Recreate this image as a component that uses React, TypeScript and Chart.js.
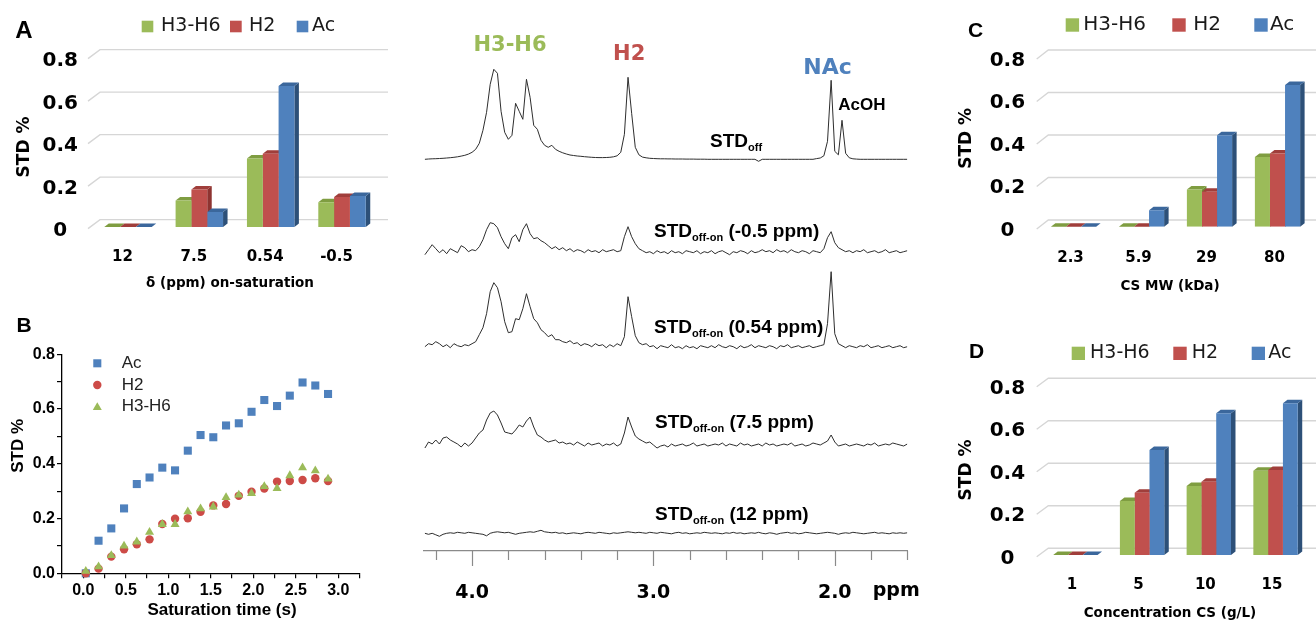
import React, { useEffect, useRef } from 'react';
import { Chart, registerables } from 'chart.js';

Chart.register(...registerables);

const DJ = '"DejaVu Sans", sans-serif';
const LS = '"Liberation Sans", Arial, sans-serif';
const GREEN = '#9bbb59';
const RED = '#c0504d';
const BLUE = '#4f81bd';
const SIDE = ['#6f8b36', '#8e3431', '#2d5078'];
const TOP = ['#7f9d41', '#a03e3b', '#3b679c'];

// ---------- Panel A ----------
const A_CATS = ['12', '7.5', '0.54', '-0.5'];
const A_H36 = [0, 0.125, 0.322, 0.116];
const A_H2 = [0, 0.176, 0.345, 0.141];
const A_AC = [0, 0.071, 0.664, 0.146];

// ---------- Panel C ----------
const C_CATS = ['2.3', '5.9', '29', '80'];
const C_H36 = [0, 0, 0.175, 0.328];
const C_H2 = [0, 0, 0.164, 0.344];
const C_AC = [0, 0.078, 0.43, 0.667];

// ---------- Panel D ----------
const D_CATS = ['1', '5', '10', '15'];
const D_H36 = [0, 0.254, 0.325, 0.397];
const D_H2 = [0, 0.293, 0.345, 0.4];
const D_AC = [0, 0.494, 0.667, 0.714];

// ---------- Panel B ----------
const B_TIME = [0.03, 0.18, 0.33, 0.48, 0.63, 0.78, 0.93, 1.08, 1.23, 1.38, 1.53, 1.68, 1.83, 1.98, 2.13, 2.28, 2.43, 2.58, 2.73, 2.88];
const B_AC = [0.0, 0.119, 0.164, 0.237, 0.326, 0.35, 0.386, 0.376, 0.448, 0.505, 0.497, 0.54, 0.548, 0.59, 0.633, 0.611, 0.649, 0.697, 0.686, 0.655];
const B_H2 = [0.0, 0.017, 0.061, 0.088, 0.106, 0.124, 0.18, 0.199, 0.201, 0.225, 0.248, 0.253, 0.283, 0.298, 0.31, 0.335, 0.337, 0.341, 0.347, 0.337];
const B_H36 = [0.008, 0.024, 0.065, 0.1, 0.115, 0.15, 0.179, 0.179, 0.225, 0.236, 0.243, 0.277, 0.286, 0.292, 0.317, 0.31, 0.357, 0.386, 0.375, 0.345];

// ---------- NMR spectra ----------
const PPM = [
  4.26, 4.24, 4.22, 4.20, 4.18, 4.16, 4.14, 4.12, 4.10, 4.08,
  4.06, 4.04, 4.02, 4.00, 3.98, 3.96, 3.94, 3.92, 3.90, 3.88,
  3.86, 3.84, 3.82, 3.80, 3.78, 3.76, 3.74, 3.72, 3.70, 3.68,
  3.66, 3.64, 3.62, 3.60, 3.58, 3.56, 3.54, 3.52, 3.50, 3.48,
  3.46, 3.44, 3.42, 3.40, 3.38, 3.36, 3.34, 3.32, 3.30, 3.28,
  3.26, 3.24, 3.22, 3.20, 3.18, 3.16, 3.14, 3.12, 3.10, 3.08,
  3.06, 3.04, 3.02, 3.00, 2.98, 2.96, 2.94, 2.92, 2.90, 2.88,
  2.86, 2.84, 2.82, 2.80, 2.78, 2.76, 2.74, 2.72, 2.70, 2.68,
  2.66, 2.64, 2.62, 2.60, 2.58, 2.56, 2.54, 2.52, 2.50, 2.48,
  2.46, 2.44, 2.42, 2.40, 2.38, 2.36, 2.34, 2.32, 2.30, 2.28,
  2.26, 2.24, 2.22, 2.20, 2.18, 2.16, 2.14, 2.12, 2.10, 2.08,
  2.06, 2.04, 2.02, 2.00, 1.98, 1.96, 1.94, 1.92, 1.90, 1.88,
  1.86, 1.84, 1.82, 1.80, 1.78, 1.76, 1.74, 1.72, 1.70, 1.68,
  1.66, 1.64, 1.62, 1.60,
];
const NMR_TICK_LABELS = ['4.0', '3.0', '2.0'];

const STD_OFF = [
  0, 0.3, 0.5, 0.6, 0.8, 1, 1.3, 1.6, 2, 2.5,
  3.2, 4, 5.2, 7, 10, 16, 29, 47, 75, 90,
  86, 48, 27, 20, 24, 56, 48, 40, 80, 62,
  34, 30, 19, 14, 12, 14, 10, 8, 6.5, 5.3,
  4.3, 3.8, 3.3, 3, 2.6, 2.3, 2, 1.8, 1.7, 1.7,
  1.8, 2, 2.5, 3.5, 7, 25, 82, 46, 12, 4.5,
  2.2, 1.5, 1, 0.8, 0.6, 0.5, 0.5, 0.4, 0.4, 0.3,
  0.3, 0.3, 0.2, 0.2, 0.2, 0.1, 0.1, 0.1, 0, 0,
  0, 0, 0, 0, 0, 0, 0, 0, 0, 0,
  0, 0, -2, 0, 0, 0, 0, 0, 0, 0,
  0, 0, 0, 0, 0, 0, 0, 0, 0.7, 1.3,
  3.5, 18, 79, 8, 4.5, 39, 6, 1.5, 0.5, 0.2,
  0, 0, 0, 0, 0, 0, 0, 0, 0, 0,
  0, 0, 0, 0,
];
const STD_M05 = [
  -3, 2, 7, 3, -1, 2, -2, 3, 1, -1,
  6, 4, 0, 2, 1, 5, 12, 22, 29, 28,
  24, 15, 8, 3, 14, 17, 10, 22, 28, 18,
  13, 14, 11, 9, 6, 3, 5, 2, 4, 1,
  3, 0, 2, 1, -1, 2, 0, 1, -1, 2,
  0, 1, 2, 0, 1, 15, 25, 15, 8, 3,
  1, -1, 0, -2, 1, -1, 0, -2, 1, -1,
  0, -2, 1, 0, -1, 1, -2, 0, -1, 1,
  -2, 0, 1, -1, -3, 0, -1, 1, 0, -2,
  1, -1, 0, 2, 0, 1, -1, 2, 0, 1,
  -1, 2, 0, -1, 1, 0, -2, 1, 0, -1,
  3, 14, 20, 9, 4, 2, 0, 1, -1, 1,
  0, 2, -1, 0, 1, -1, 0, 2, -1, 0,
  1, -1, 0, 1,
];
const STD_054 = [
  0, 3, 2, 5, 3, 0, 2, -1, 3, 1,
  0, 2, 1, 3, 5, 12, 19, 33, 55, 64,
  59, 45, 25, 14, 15, 28, 27, 38, 53, 40,
  28, 24, 17, 14, 10, 12, 7, 7, 5, 4,
  6, 3, 4, 1, 3, 2, 0, 3, 1, 2,
  -1, 2, 0, 3, 1, 10, 50, 30, 11, 4,
  2, 3, 0, 1, -2, 1, 0, -1, 2, -1,
  0, -2, 1, -1, 0, -2, 1, 0, -1, 1,
  -1, 2, 0, -1, 1, 0, -2, 1, -1, 0,
  2, -1, 1, 0, -1, 1, 0, -2, 1, 0,
  2, -1, 0, 1, -1, 0, 1, -1, 0, 1,
  2, 23, 75, 13, 3, 1, -1, 1, 0, -1,
  1, 0, 2, -1, 0, 1, -1, 0, 1, -1,
  0, 1, -1, 0,
];
const STD_75 = [
  -3, 3, 1, 5, 1, 7, 8, 5, 3, 1,
  -2, 2, -1, 2, 7, 12, 15, 25, 32, 34,
  30, 22, 13, 12, 11, 15, 20, 18, 24, 28,
  18, 10, 8, 5, 3, 4, 5, 2, 3, 1,
  2, 0, 3, 1, -1, 2, 0, 1, 2, -1,
  1, 0, 2, -1, 1, 12, 28, 18, 9, 6,
  4, 2, 3, 0, -3, -1, 0, -2, 1, -1,
  0, 1, -1, 0, 2, -1, 0, 1, -1, 0,
  1, 0, 2, -1, 1, 0, -1, 2, 0, 1,
  -1, 0, 1, -1, 2, 0, 1, -1, 0, 1,
  0, 2, -1, 0, 1, -1, 0, 2, 1, 0,
  2, 4, 10, 3, -1, 0, 1, -1, 0, 1,
  0, -1, 1, 0, 2, -1, 0, 1, 0, 2,
  1, 0, -1, 1,
];
const STD_12 = [
  0, -1, 0, -1.5, -3, -1, 0, 0.5, 0, 1,
  0.5, 0, 1, 0.5, 0, -0.5, -1, -2.5, 0, 1,
  1.5, 1, 0.5, 1, 0, -1, 0, 0.5, 1, 1.5,
  1, 2, 3, 1.5, 1, 0.5, 1, 0, 0.5, -0.5,
  0, 0.5, 0, -0.5, 0.5, 1, 0.5, 0, 1, 0.5,
  0, -0.5, 0.5, 0, 0.5, 1, 1.5, 1, 0.5, 1,
  0.5, 0, 1, 0.5, 0, 1, 0.5, 0, -0.5, 0.5,
  1, 0, 0.5, -0.5, 0, 0.5, 0, 1, 0.5, 0,
  0.5, 0, -0.5, 0.5, 0, 1, 0, 0.5, -0.5, 0,
  0.5, 0, 1, 0, -0.5, 0.5, 0, -1, 0, 0.5,
  1, 0, 0.5, -0.5, 0, 1, 0.5, 0, -0.5, 0,
  0.5, 1, 0.5, 0, -1, 0, 0.5, 0, 1, 0.5,
  0, -0.5, 0, 0.5, 1, 0, 0.5, 0, -0.5, 0.5,
  0, 0.5, 0, 0.5,
];
const TRACES = [STD_OFF, STD_M05, STD_054, STD_75, STD_12];
// vertical stacking of the five spectra (layout, in plot units)
const TRACE_BASE = [391.7, 299.3, 204.3, 106, 17.7];

// ---------- helpers ----------
function overlay(spec: any) {
  return {
    id: 'overlay',
    afterDraw(chart: any) {
      const ctx: CanvasRenderingContext2D = chart.ctx;
      ctx.save();
      for (const b of spec.boxes || []) {
        ctx.fillStyle = b.c;
        ctx.fillRect(b.x, b.y, b.w, b.h);
      }
      for (const m of spec.marks || []) {
        ctx.fillStyle = m.c;
        ctx.beginPath();
        if (m.shape === 'rect') {
          const s = Math.SQRT1_2 * m.r;
          ctx.rect(m.x - s, m.y - s, 2 * s, 2 * s);
        } else if (m.shape === 'circle') {
          ctx.arc(m.x, m.y, m.r, 0, Math.PI * 2);
        } else {
          for (let k = 0; k < 3; k++) {
            const a = (k * 2 * Math.PI) / 3;
            const px = m.x + Math.sin(a) * m.r;
            const py = m.y - Math.cos(a) * m.r;
            if (k === 0) ctx.moveTo(px, py);
            else ctx.lineTo(px, py);
          }
          ctx.closePath();
        }
        ctx.fill();
      }
      for (const t of spec.texts || []) {
        ctx.save();
        ctx.fillStyle = t.c || '#000';
        ctx.translate(t.x, t.y);
        if (t.rot) ctx.rotate(t.rot);
        if (t.parts) {
          ctx.textAlign = 'left';
          ctx.textBaseline = 'alphabetic';
          let x = 0;
          for (const p of t.parts) {
            ctx.font = p.f;
            ctx.fillText(p.t, x, p.dy || 0);
            x += ctx.measureText(p.t).width;
          }
        } else {
          ctx.font = t.f;
          ctx.textAlign = t.align || 'center';
          ctx.textBaseline = 'middle';
          ctx.fillText(t.t, 0, 0);
        }
        ctx.restore();
      }
      ctx.restore();
    },
  };
}

function bar3d(g: any) {
  const DX = 4.5;
  const DY = 3.5;
  return {
    id: 'bar3d',
    beforeDatasetsDraw(chart: any) {
      const { ctx, chartArea: ca } = chart;
      const ys = chart.scales.y;
      ctx.save();
      ctx.strokeStyle = '#d6d6d6';
      ctx.lineWidth = 1.4;
      for (const tk of ys.ticks) {
        const yp = ys.getPixelForValue(tk.value);
        ctx.beginPath();
        ctx.moveTo(ca.left + g.fx, yp + g.fy);
        ctx.lineTo(ca.left + g.bx, yp + g.by);
        ctx.lineTo(ca.right + g.rx, yp + g.by);
        ctx.stroke();
      }
      const n = chart.data.datasets.length;
      const els: any[] = [];
      for (let di = 0; di < n; di++) {
        chart.getDatasetMeta(di).data.forEach((el: any) => els.push({ el, di }));
      }
      for (const { el, di } of els) {
        const r = el.x + el.width / 2;
        ctx.fillStyle = SIDE[di];
        ctx.beginPath();
        ctx.moveTo(r, el.y);
        ctx.lineTo(r + DX, el.y - DY);
        ctx.lineTo(r + DX, el.base - DY);
        ctx.lineTo(r, el.base);
        ctx.closePath();
        ctx.fill();
      }
      for (const { el, di } of els) {
        const l = el.x - el.width / 2;
        const r = el.x + el.width / 2;
        ctx.fillStyle = TOP[di];
        ctx.beginPath();
        ctx.moveTo(l, el.y);
        ctx.lineTo(l + DX, el.y - DY);
        ctx.lineTo(r + DX, el.y - DY);
        ctx.lineTo(r, el.y);
        ctx.closePath();
        ctx.fill();
      }
      ctx.restore();
    },
  };
}

function barConfig(p: any) {
  return {
    type: 'bar',
    data: {
      labels: p.cats,
      datasets: [
        { label: 'H3-H6', data: p.h36, backgroundColor: GREEN },
        { label: 'H2', data: p.h2, backgroundColor: RED },
        { label: 'Ac', data: p.ac, backgroundColor: BLUE },
      ],
    },
    options: {
      responsive: false,
      animation: false,
      events: [],
      layout: { padding: { left: 0, top: p.top, right: p.padRight, bottom: 0 } },
      datasets: { bar: { categoryPercentage: 0.665, barPercentage: 1, borderWidth: 0 } },
      plugins: { legend: { display: false }, tooltip: { enabled: false } },
      scales: {
        x: {
          grid: { display: false },
          border: { display: false },
          ticks: {
            font: { family: DJ, size: 15, weight: 'bold' },
            color: '#000',
            padding: p.xPad,
            labelOffset: p.xOff,
            maxRotation: 0,
            autoSkip: false,
          },
          afterFit: (s: any) => {
            s.height = p.xHeight;
            s.paddingLeft = 0;
            s.paddingRight = 0;
          },
        },
        y: {
          min: 0,
          max: 0.8,
          grid: { display: false },
          border: { display: false },
          ticks: {
            stepSize: 0.2,
            font: { family: DJ, size: 20, weight: 'bold' },
            color: '#000',
            padding: p.yPad,
            crossAlign: 'center',
            labelOffset: p.yOff,
            callback: (v: any) => (Math.abs(v) < 1e-9 ? '0' : Number(v).toFixed(1)),
          },
          afterFit: (s: any) => {
            s.width = p.yWidth;
            s.paddingTop = 0;
            s.paddingBottom = 0;
          },
        },
      },
    },
    plugins: [bar3d(p.grid), overlay(p.spec)],
  };
}

const legendTexts = (xs: number[], y: number, size: number) =>
  ['H3-H6', 'H2', 'Ac'].map((t, i) => ({ t, x: xs[i], y, f: `${size}px ${DJ}`, align: 'left', c: '#1a1a1a' }));

const PANEL_A = {
  cats: A_CATS, h36: A_H36, h2: A_H2, ac: A_AC,
  top: 57, padRight: 22.3, yWidth: 92.3, xHeight: 73,
  xPad: 13, xOff: -5.5, yPad: 6.4, yOff: 4,
  grid: { fx: -4.3, fy: 1.6, bx: 7.7, by: -7.4, rx: 10.3 },
  spec: {
    boxes: [
      { x: 141.7, y: 20.7, w: 11.6, h: 11.6, c: GREEN },
      { x: 230, y: 20.7, w: 11.7, h: 11.6, c: RED },
      { x: 296.7, y: 20.7, w: 11.6, h: 11.6, c: BLUE },
    ],
    texts: [
      { t: 'A', x: 24, y: 31, f: `bold 24px ${LS}` },
      ...legendTexts([161, 249, 312], 26.5, 19),
      { t: 'STD %', x: 25, y: 147, f: `bold 17px ${DJ}`, rot: -Math.PI / 2 },
      { t: 'δ (ppm) on-saturation', x: 230, y: 283, f: `bold 13.5px ${DJ}` },
    ],
  },
};

const PANEL_C = {
  cats: C_CATS, h36: C_H36, h2: C_H2, ac: C_AC,
  top: 56.7, padRight: 4.5, yWidth: 114.5, xHeight: 83.3,
  xPad: 14.5, xOff: -3, yPad: 6.4, yOff: 4,
  grid: { fx: -2.8, fy: 2.3, bx: 8.8, by: -6.7, rx: 12 },
  spec: {
    boxes: [
      { x: 140.7, y: 18.3, w: 13.4, h: 13.4, c: GREEN },
      { x: 247.3, y: 18.3, w: 13.4, h: 13.4, c: RED },
      { x: 329.3, y: 18.3, w: 13.4, h: 13.4, c: BLUE },
    ],
    texts: [
      { t: 'C', x: 50.5, y: 31.5, f: `bold 21px ${LS}` },
      ...legendTexts([158.3, 268.3, 345], 25, 20),
      { t: 'STD %', x: 41.7, y: 138.3, f: `bold 17px ${DJ}`, rot: -Math.PI / 2 },
      { t: 'CS MW (kDa)', x: 245, y: 286.7, f: `bold 13.5px ${DJ}` },
    ],
  },
};

const PANEL_D = {
  cats: D_CATS, h36: D_H36, h2: D_H2, ac: D_AC,
  top: 75, padRight: 7.1, yWidth: 117, xHeight: 69,
  xPad: 13, xOff: -3.5, yPad: 8.9, yOff: 3.5,
  grid: { fx: -5.3, fy: 1.7, bx: 6.3, by: -6.7, rx: 12 },
  spec: {
    boxes: [
      { x: 146.7, y: 36.7, w: 13.3, h: 13.3, c: GREEN },
      { x: 248.3, y: 36.7, w: 13.4, h: 13.3, c: RED },
      { x: 326.7, y: 36.7, w: 13.3, h: 13.3, c: BLUE },
    ],
    texts: [
      { t: 'D', x: 51.5, y: 42.5, f: `bold 21px ${LS}` },
      ...legendTexts([165, 266.7, 343.3], 43.3, 19),
      { t: 'STD %', x: 41.7, y: 160, f: `bold 17px ${DJ}`, rot: -Math.PI / 2 },
      { t: 'Concentration CS (g/L)', x: 245, y: 303.3, f: `bold 13.5px ${DJ}` },
    ],
  },
};

function scatterConfig() {
  const pts = (ys: number[]) => B_TIME.map((t, i) => ({ x: t, y: ys[i] }));
  return {
    type: 'scatter',
    data: {
      datasets: [
        { label: 'H3-H6', data: pts(B_H36), pointStyle: 'triangle', pointRadius: 5.2, backgroundColor: GREEN, borderColor: GREEN, borderWidth: 0, clip: false },
        { label: 'H2', data: pts(B_H2), pointStyle: 'circle', pointRadius: 4.2, backgroundColor: '#cd4b47', borderColor: '#cd4b47', borderWidth: 0, clip: false },
        { label: 'Ac', data: pts(B_AC), pointStyle: 'rect', pointRadius: 5.7, backgroundColor: BLUE, borderColor: BLUE, borderWidth: 0, clip: false },
      ],
    },
    options: {
      responsive: false,
      animation: false,
      events: [],
      layout: { padding: { left: 0, top: 54.3, right: 40.5, bottom: 0 } },
      plugins: { legend: { display: false }, tooltip: { enabled: false } },
      scales: {
        x: {
          type: 'linear',
          min: -0.25,
          max: 3.25,
          grid: { display: true, drawOnChartArea: false, drawTicks: true, tickLength: 5, color: '#000', lineWidth: 1.2 },
          border: { display: true, color: '#000', width: 1.3 },
          ticks: {
            stepSize: 0.25,
            autoSkip: false,
            maxRotation: 0,
            padding: 3,
            font: { family: LS, size: 16, weight: 'bold' },
            color: '#000',
            callback: (v: any) => {
              const q = Math.round(v * 4);
              return q >= 0 && q <= 12 && q % 2 === 0 ? (q / 4).toFixed(1) : '';
            },
          },
          afterFit: (s: any) => {
            s.height = 50.7;
            s.paddingLeft = 0;
            s.paddingRight = 0;
          },
        },
        y: {
          min: 0,
          max: 0.8,
          grid: { display: true, drawOnChartArea: false, drawTicks: true, tickLength: 5, color: '#000', lineWidth: 1.2 },
          border: { display: true, color: '#000', width: 1.3 },
          ticks: {
            stepSize: 0.1,
            autoSkip: false,
            padding: 2,
            font: { family: LS, size: 16, weight: 'bold' },
            color: '#000',
            callback: (v: any) => {
              const q = Math.round(v * 10);
              return q % 2 === 0 ? (q / 10).toFixed(1) : '';
            },
          },
          afterFit: (s: any) => {
            s.width = 62;
            s.paddingTop = 0;
            s.paddingBottom = 0;
          },
        },
      },
    },
    plugins: [
      overlay({
        marks: [
          { shape: 'rect', x: 97.3, y: 63.3, r: 5.7, c: BLUE },
          { shape: 'circle', x: 97.3, y: 85, r: 4.2, c: '#cd4b47' },
          { shape: 'triangle', x: 97.3, y: 107.5, r: 5.2, c: GREEN },
        ],
        texts: [
          { t: 'B', x: 24.2, y: 25.8, f: `bold 21px ${LS}` },
          { t: 'Ac', x: 121.7, y: 63.3, f: `17px ${LS}`, align: 'left', c: '#222' },
          { t: 'H2', x: 121.7, y: 85, f: `17px ${LS}`, align: 'left', c: '#222' },
          { t: 'H3-H6', x: 121.7, y: 106.7, f: `17px ${LS}`, align: 'left', c: '#222' },
          { t: 'STD %', x: 18, y: 145.8, f: `bold 17px ${LS}`, rot: -Math.PI / 2 },
          { t: 'Saturation time (s)', x: 222, y: 310, f: `bold 17px ${LS}` },
        ],
      }),
    ],
  };
}

const nmrTicks = {
  id: 'nmrTicks',
  afterDraw(chart: any) {
    const { ctx, chartArea: ca } = chart;
    const xs = chart.scales.x;
    ctx.save();
    ctx.strokeStyle = '#8a8a8a';
    ctx.lineWidth = 1.2;
    for (const t of xs.ticks) {
      const px = Math.round(xs.getPixelForValue(t.value)) + 0.5;
      const major = Math.abs(t.value - Math.round(t.value)) < 1e-6;
      ctx.beginPath();
      ctx.moveTo(px, ca.bottom);
      ctx.lineTo(px, ca.bottom + (major ? 15 : 9));
      ctx.stroke();
    }
    ctx.restore();
  },
};

function nmrConfig() {
  const SB = `bold 19px ${LS}`;
  const SS = `bold 11px ${LS}`;
  const lbl = (x: number, y: number, rest: string) => ({
    x, y, parts: [{ t: 'STD', f: SB }, { t: 'off-on', f: SS, dy: 3.8 }, { t: rest, f: SB }],
  });
  return {
    type: 'line',
    data: {
      datasets: TRACES.map((tr, k) => ({
        data: PPM.map((p, i) => ({ x: p, y: TRACE_BASE[k] + tr[i] })),
        borderColor: '#2e2e2e',
        borderWidth: 1,
        pointRadius: 0,
        tension: 0,
      })),
    },
    options: {
      responsive: false,
      animation: false,
      events: [],
      layout: { padding: { left: 24, top: 51, right: 17.7, bottom: 0 } },
      plugins: { legend: { display: false }, tooltip: { enabled: false } },
      scales: {
        x: {
          type: 'linear',
          min: 1.6,
          max: 4.265,
          reverse: true,
          grid: { display: false },
          border: { display: true, color: '#8a8a8a', width: 1.2 },
          ticks: {
            stepSize: 0.2,
            includeBounds: false,
            autoSkip: false,
            maxRotation: 0,
            padding: 22.6,
            font: { family: DJ, size: 19, weight: 'bold' },
            color: '#000',
            callback: (v: any) => {
              const s = Number(v).toFixed(1);
              return NMR_TICK_LABELS.includes(s) && Math.abs(v - Math.round(v)) < 1e-6 ? s : '';
            },
          },
          afterFit: (s: any) => {
            s.height = 73;
            s.paddingLeft = 0;
            s.paddingRight = 0;
          },
        },
        y: { display: false, min: 0, max: 500 },
      },
    },
    plugins: [
      nmrTicks,
      overlay({
        texts: [
          { t: 'H3-H6', x: 110, y: 45.7, f: `bold 21px ${DJ}`, c: GREEN },
          { t: 'H2', x: 229.2, y: 55, f: `bold 21px ${DJ}`, c: RED },
          { t: 'NAc', x: 427.5, y: 68, f: `bold 22px ${DJ}`, c: BLUE },
          { t: 'AcOH', x: 438.3, y: 105, f: `bold 17px ${LS}`, align: 'left' },
          { x: 310, y: 146.7, parts: [{ t: 'STD', f: SB }, { t: 'off', f: SS, dy: 3.8 }] },
          lbl(254, 236.7, ' (-0.5 ppm)'),
          lbl(254, 333.3, ' (0.54 ppm)'),
          lbl(255, 428.3, ' (7.5 ppm)'),
          lbl(255, 520, ' (12 ppm)'),
          { t: 'ppm', x: 472.7, y: 591, f: `bold 19px ${DJ}`, align: 'left' },
        ],
      }),
    ],
  };
}

export default function App() {
  const refA = useRef<HTMLCanvasElement>(null);
  const refB = useRef<HTMLCanvasElement>(null);
  const refN = useRef<HTMLCanvasElement>(null);
  const refC = useRef<HTMLCanvasElement>(null);
  const refD = useRef<HTMLCanvasElement>(null);

  useEffect(() => {
    const charts = [
      new Chart(refA.current as any, barConfig(PANEL_A) as any),
      new Chart(refB.current as any, scatterConfig() as any),
      new Chart(refN.current as any, nmrConfig() as any),
      new Chart(refC.current as any, barConfig(PANEL_C) as any),
      new Chart(refD.current as any, barConfig(PANEL_D) as any),
    ];
    return () => charts.forEach((c) => c.destroy());
  }, []);

  const cv = (left: number, top: number, w: number, h: number): React.CSSProperties => ({
    position: 'absolute', left, top, width: w, height: h,
  });

  return (
    <div style={{ position: 'absolute', left: 0, top: 0, width: 1316, height: 624, background: '#fff', overflow: 'hidden' }}>
      <canvas ref={refA} width={400} height={300} style={cv(0, 0, 400, 300)} />
      <canvas ref={refB} width={400} height={324} style={cv(0, 300, 400, 324)} />
      <canvas ref={refN} width={525} height={624} style={cv(400, 0, 525, 624)} />
      <canvas ref={refC} width={391} height={310} style={cv(925, 0, 391, 310)} />
      <canvas ref={refD} width={391} height={314} style={cv(925, 310, 391, 314)} />
    </div>
  );
}
